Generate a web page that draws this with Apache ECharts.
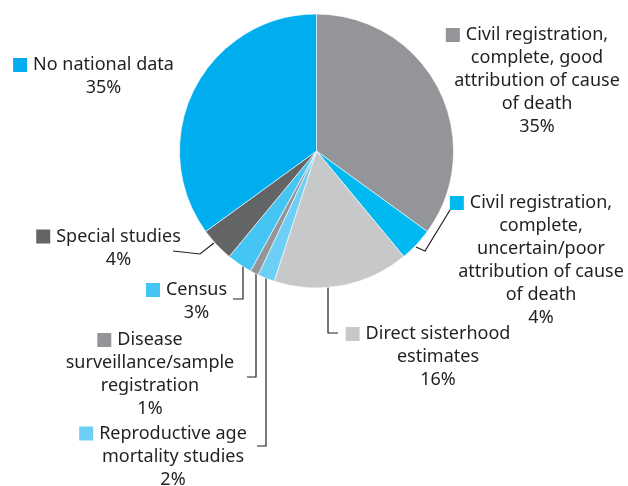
<!DOCTYPE html>
<html><head><meta charset="utf-8">
<script src="https://cdn.jsdelivr.net/npm/echarts@6/dist/echarts.min.js"></script>
<style>html,body{margin:0;padding:0;background:#fff}#chart{width:628px;height:486px}</style>
</head><body><div id="chart"></div>
<script>
const categories = [
  'Civil registration,\ncomplete, good\nattribution of cause\nof death',
  'Civil registration,\ncomplete,\nuncertain/poor\nattribution of cause\nof death',
  'Direct sisterhood\nestimates',
  'Reproductive age\nmortality studies',
  'Disease\nsurveillance/sample\nregistration',
  'Census',
  'Special studies',
  'No national data'
];
const values = [35, 4, 16, 2, 1, 3, 4, 35];
const colors = ['#939598', '#00b9f1', '#c7c8ca', '#6dcff6', '#939598', '#45c5f3', '#636466', '#00aeef'];

// label placement (text block centre x, first line middle y) and leader lines
const labelPos = [
  {x: 537, y: 35, line: null},
  {x: 541, y: 203, line: [[416, 247], [425, 251], [450, 210]]},
  {x: 438, y: 334, line: [[328, 287], [328, 333], [338, 333]]},
  {x: 173, y: 433.5, line: [[266, 278], [266, 446], [257, 446]]},
  {x: 150, y: 340, line: [[256, 273], [256, 377], [247, 377]]},
  {x: 196.5, y: 290, line: [[243, 264], [243, 299], [233, 299]]},
  {x: 118.5, y: 236.5, line: [[214, 243], [200, 254], [173, 251]]},
  {x: 103.5, y: 65, line: null}
];

const FONT = 'Noto Sans';
const LH = 23;
const rich = {gap: {width: 6, lineHeight: LH}, pad: {width: 20, lineHeight: LH}};
colors.forEach((c, i) => { rich['sq' + i] = {width: 14, height: 14, backgroundColor: c, lineHeight: LH}; });

const chart = echarts.init(document.getElementById('chart'), null, {renderer: 'canvas'});
chart.setOption({
  animation: false,
  series: [{
    type: 'pie',
    center: [316.5, 151],
    radius: 137,
    startAngle: 90,
    clockwise: true,
    avoidLabelOverlap: false,
    emphasis: {disabled: true},
    itemStyle: {borderColor: '#ffffff', borderWidth: 0.6},
    label: {
      show: true,
      position: 'outside',
      fontFamily: FONT,
      fontSize: 18,
      color: '#231f20',
      lineHeight: LH,
      align: 'center',
      rich: rich,
      formatter: function (p) {
        const lines = p.name.split('\n');
        lines[0] = '{sq' + p.dataIndex + '|}{gap|}' + lines[0] + '{pad|}';
        lines.push(p.value + '%');
        return lines.join('\n');
      }
    },
    labelLine: {show: true, smooth: false, lineStyle: {color: '#231f20', width: 1.2}},
    labelLayout: function (params) {
      const p = labelPos[params.dataIndex];
      const out = {x: p.x, y: p.y - LH / 2, align: 'center', verticalAlign: 'top', hideOverlap: false, moveOverlap: null};
      if (p.line) out.labelLinePoints = p.line;
      return out;
    },
    data: categories.map((n, i) => ({
      name: n,
      value: values[i],
      itemStyle: {color: colors[i]},
      labelLine: {show: labelPos[i].line !== null}
    }))
  }]
});
</script>
</body></html>
